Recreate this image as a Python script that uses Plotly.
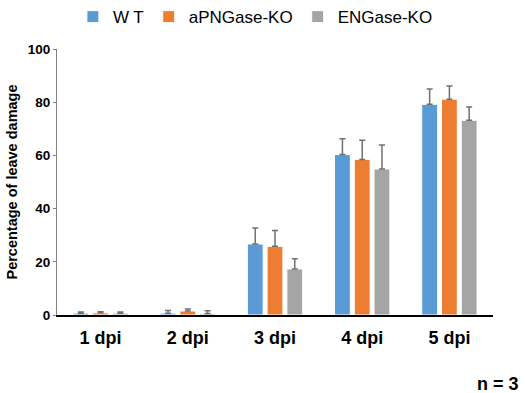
import plotly.graph_objects as go

categories = ["1 dpi", "2 dpi", "3 dpi", "4 dpi", "5 dpi"]
wt = [0.7, 0.7, 26.7, 60.3, 79.2]
wt_err = [0.4, 1.0, 6.0, 6.0, 5.8]
apng = [0.8, 1.5, 25.8, 58.5, 81.1]
apng_err = [0.4, 0.8, 6.0, 7.2, 5.0]
eng = [0.7, 0.6, 17.3, 54.9, 73.2]
eng_err = [0.4, 1.0, 3.8, 9.0, 5.0]
y_ticks = [0, 20, 40, 60, 80, 100]

series = [
    ("W T", wt, wt_err, "#5B9BD5"),
    ("aPNGase-KO", apng, apng_err, "#ED7D31"),
    ("ENGase-KO", eng, eng_err, "#A5A5A5"),
]

fig = go.Figure()
for name, vals, errs, col in series:
    fig.add_trace(go.Bar(
        name=name, x=categories, y=vals,
        marker=dict(color=col, line=dict(color="white", width=1)),
        error_y=dict(type="data", array=errs, symmetric=False, arrayminus=[0]*len(errs),
                     color="#707070", thickness=1.5, width=3),
    ))

fig.update_layout(
    width=525, height=393,
    margin=dict(l=57, r=32, t=49, b=78, autoexpand=False),
    paper_bgcolor="white", plot_bgcolor="white",
    barmode="group", bargap=0.32, bargroupgap=0.2,
    font=dict(family="Liberation Sans, Arial, sans-serif", color="#000000"),
    legend=dict(orientation="h", x=0.455, xanchor="center", y=1.12, yanchor="middle",
                font=dict(family="Liberation Sans Narrow, Arial Narrow, Liberation Sans, sans-serif", size=17),
                itemwidth=30, traceorder="normal"),
    showlegend=True,
)
fig.update_yaxes(
    range=[0, 100], tickvals=y_ticks, ticktext=[f"<b>{v}</b>" for v in y_ticks],
    showgrid=False, zeroline=False,
    showline=True, linecolor="#808080", linewidth=1,
    ticks="outside", ticklen=3, tickcolor="#808080",
    tickfont=dict(size=13.5, family="Liberation Sans, Arial, sans-serif"),
    title=dict(text="<b>Percentage of leave damage</b>", font=dict(size=14.5), standoff=6),
)
fig.update_xaxes(
    showgrid=False, showline=True, linecolor="#000000", linewidth=1.5, ticks="",
    tickfont=dict(size=18, weight="bold"), ticklabelstandoff=6,
)
fig.add_annotation(text="<b>n = 3</b>", xref="paper", yref="paper", x=1.064, y=-0.26,
                   xanchor="right", yanchor="middle", showarrow=False, font=dict(size=18))

fig.write_html("out.html", config={"displayModeBar": False},
               post_script="document.body.style.margin='0';document.body.style.padding='0';")
